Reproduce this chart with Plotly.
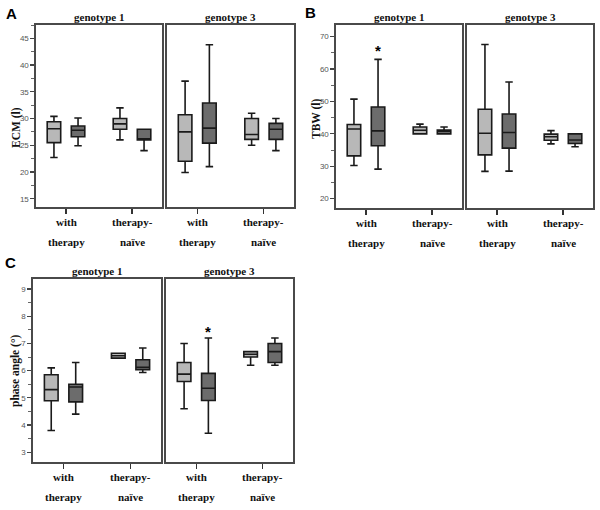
import plotly.graph_objects as go

W, H = 600, 510

categories = ["with therapy", "therapy-naïve"]
cat_lines = [["with", "therapy"], ["therapy-", "naïve"]]
subtitles = ["genotype 1", "genotype 3"]

# Panel A: ECM (l)  -- [genotype1: with, naive], [genotype3: with, naive]
A_light_lf = [[22.7, 26.0], [19.9, 25.0]]
A_light_q1 = [[25.5, 28.0], [22.0, 26.1]]
A_light_md = [[28.1, 29.0], [27.5, 27.0]]
A_light_q3 = [[29.4, 30.0], [30.7, 30.0]]
A_light_uf = [[30.4, 32.0], [37.0, 31.0]]
A_dark_lf = [[24.9, 24.0], [21.0, 24.0]]
A_dark_q1 = [[26.6, 26.0], [25.4, 26.1]]
A_dark_md = [[27.8, 26.0], [28.2, 28.0]]
A_dark_q3 = [[28.6, 28.0], [32.9, 29.1]]
A_dark_uf = [[30.1, 28.0], [43.8, 30.0]]

# Panel B: TBW (l)
B_light_lf = [[30.2, 40.0], [28.4, 36.9]]
B_light_q1 = [[33.2, 40.0], [33.5, 38.0]]
B_light_md = [[41.5, 41.1], [40.2, 39.1]]
B_light_q3 = [[42.9, 42.1], [47.6, 39.9]]
B_light_uf = [[50.7, 43.0], [67.6, 41.0]]
B_dark_lf = [[29.1, 40.0], [28.5, 36.0]]
B_dark_q1 = [[36.3, 40.0], [35.6, 37.0]]
B_dark_md = [[40.9, 40.8], [40.4, 38.1]]
B_dark_q3 = [[48.3, 41.2], [46.1, 40.0]]
B_dark_uf = [[63.0, 42.1], [56.0, 40.0]]

# Panel C: phase angle (°)
C_light_lf = [[3.8, 6.46], [4.6, 6.2]]
C_light_q1 = [[4.89, 6.46], [5.6, 6.5]]
C_light_md = [[5.3, 6.55], [5.87, 6.6]]
C_light_q3 = [[5.85, 6.64], [6.3, 6.7]]
C_light_uf = [[6.1, 6.64], [7.0, 6.7]]
C_dark_lf = [[4.4, 5.93], [3.7, 6.2]]
C_dark_q1 = [[4.85, 6.03], [4.9, 6.3]]
C_dark_md = [[5.4, 6.12], [5.35, 6.7]]
C_dark_q3 = [[5.5, 6.4], [5.9, 7.0]]
C_dark_uf = [[6.3, 6.83], [7.2, 7.2]]

# significance markers: (panel, genotype index, category index, value)
asterisks = [("B", 0, 0, 66.7), ("C", 1, 0, 7.55)]

y_titles = {"A": "ECM (l)", "B": "TBW (l)", "C": "phase angle (°)"}
y_ranges = {"A": [13.45, 47.5], "B": [17.1, 73.6], "C": [2.64, 9.37]}
y_dtick = {"A": 5, "B": 10, "C": 1}
y_minor = {"A": 2.5, "B": 5, "C": 0.5}

# pixel layout of panels (x0, x1 of both subplots, y0, y1)
panels = {
    "A": dict(xs=[(36, 162), (167, 294)], ys=(25, 207), letter=(11, 13), ytitle=(16, 128)),
    "B": dict(xs=[(336, 462), (467, 593)], ys=(25, 208), letter=(310, 12), ytitle=(316, 118)),
    "C": dict(xs=[(33, 161), (166, 293)], ys=(279, 462), letter=(10, 262), ytitle=(15, 371)),
}

data = {
    "A": (A_light_lf, A_light_q1, A_light_md, A_light_q3, A_light_uf,
          A_dark_lf, A_dark_q1, A_dark_md, A_dark_q3, A_dark_uf),
    "B": (B_light_lf, B_light_q1, B_light_md, B_light_q3, B_light_uf,
          B_dark_lf, B_dark_q1, B_dark_md, B_dark_q3, B_dark_uf),
    "C": (C_light_lf, C_light_q1, C_light_md, C_light_q3, C_light_uf,
          C_dark_lf, C_dark_q1, C_dark_md, C_dark_q3, C_dark_uf),
}

LIGHT = "#b8b8b8"
DARK = "#6c6c6c"
SERIF = "Liberation Serif"
SANS = "Liberation Sans"
BOXGAP = 0.27
BOXGROUPGAP = 0.44

fig = go.Figure()
layout = dict(
    width=W, height=H, margin=dict(l=0, r=0, t=0, b=0),
    paper_bgcolor="white", plot_bgcolor="white",
    showlegend=False, boxmode="group", boxgap=BOXGAP, boxgroupgap=BOXGROUPGAP,
)
annotations = []

def px(x):
    return x / W

def py(y):
    return 1 - y / H

axis_index = 0
axis_map = {}
for pname in ["A", "B", "C"]:
    p = panels[pname]
    d = data[pname]
    for gi in range(2):
        axis_index += 1
        sfx = "" if axis_index == 1 else str(axis_index)
        axis_map[(pname, gi)] = sfx
        xa, ya = "x" + sfx, "y" + sfx
        x0, x1 = p["xs"][gi]
        y0, y1 = p["ys"]
        for si, (color, name) in enumerate([(LIGHT, "light group"), (DARK, "dark group")]):
            lf, q1, md, q3, uf = d[si * 5: si * 5 + 5]
            fig.add_trace(go.Box(
                x=categories, lowerfence=lf[gi], q1=q1[gi], median=md[gi], q3=q3[gi],
                upperfence=uf[gi], name=name, fillcolor=color,
                line=dict(color="#1a1a1a", width=1.6), whiskerwidth=0.55,
                boxpoints=False, hoverinfo="skip", xaxis=xa, yaxis=ya,
                offsetgroup=str(si),
            ))
        layout["xaxis" + sfx] = dict(
            domain=[px(x0), px(x1)], anchor=ya, type="category",
            categoryorder="array", categoryarray=categories,
            range=[-0.4545, 1.4545], showticklabels=False,
            ticks="outside", ticklen=5, tickwidth=1.3, tickcolor="#333",
            showline=True, mirror=True, linecolor="#4a4a4a", linewidth=1.6,
            showgrid=False, zeroline=False, fixedrange=True,
        )
        yax = dict(
            domain=[py(y1), py(y0)], anchor=xa, range=y_ranges[pname],
            showline=True, mirror=True, linecolor="#4a4a4a", linewidth=1.6,
            showgrid=False, zeroline=False, fixedrange=True,
        )
        if gi == 0:
            yax.update(
                dtick=y_dtick[pname], tick0=0, ticks="outside", ticklen=4,
                tickwidth=1.2, tickcolor="#444",
                tickfont=dict(family=SANS, size=8, color="#555"),
                minor=dict(dtick=y_minor[pname], tick0=0, ticks="outside",
                           ticklen=3, tickwidth=1, tickcolor="#666"),
            )
        else:
            yax.update(showticklabels=False, ticks="")
        layout["yaxis" + sfx] = yax

        # subplot title
        annotations.append(dict(
            text="<b>" + subtitles[gi] + "</b>", x=px((x0 + x1) / 2), y=py(y0 - 8),
            xref="paper", yref="paper", showarrow=False,
            font=dict(family=SERIF, size=11, color="#111"),
            xanchor="center", yanchor="middle",
        ))
        # category labels (two lines)
        for ci, cat in enumerate(categories):
            for li, line in enumerate(cat_lines[ci]):
                annotations.append(dict(
                    text="<b>" + line + "</b>", x=cat, xref=xa,
                    y=py(y1 + 15 + 20 * li), yref="paper", showarrow=False,
                    font=dict(family=SERIF, size=11, color="#111"),
                    xanchor="center", yanchor="middle",
                ))
    # panel letter
    lx, ly = p["letter"]
    annotations.append(dict(
        text="<b>" + pname + "</b>", x=px(lx), y=py(ly), xref="paper", yref="paper",
        showarrow=False, font=dict(family=SANS, size=15, color="#000"),
        xanchor="center", yanchor="middle",
    ))
    # y title
    tx, ty = p["ytitle"]
    annotations.append(dict(
        text="<b>" + y_titles[pname] + "</b>", x=px(tx), y=py(ty),
        xref="paper", yref="paper", showarrow=False, textangle=-90,
        font=dict(family=SERIF, size=11.5, color="#111"),
        xanchor="center", yanchor="middle",
    ))

# asterisks above the dark boxes
slot_offset = (1 - BOXGAP) / 4
for pname, gi, ci, val in asterisks:
    sfx = axis_map[(pname, gi)]
    annotations.append(dict(
        text="<b>*</b>", x=ci + slot_offset, y=val, xref="x" + sfx, yref="y" + sfx,
        showarrow=False, font=dict(family=SANS, size=15, color="#000"),
        xanchor="center", yanchor="middle", yshift=-3,
    ))

layout["annotations"] = annotations
fig.update_layout(**layout)
fig.write_html(
    "out.html",
    config={"displayModeBar": False, "staticPlot": True},
    post_script="document.body.style.margin='0';document.body.style.overflow='hidden';",
)
